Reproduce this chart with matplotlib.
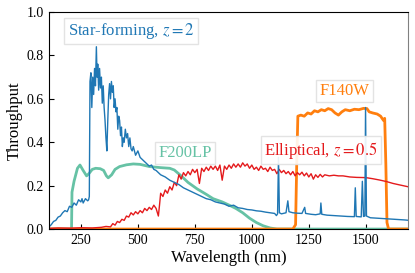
import matplotlib
matplotlib.use('Agg')
import matplotlib.pyplot as plt

# fonts: Times-like serif with STIX math
plt.rcParams['font.family'] = 'Liberation Serif'
plt.rcParams['mathtext.fontset'] = 'stix'

# star-forming galaxy, z=2 (wavelength nm, throughput-weighted flux)
sf_wave = [110, 120, 130, 140, 150, 160, 170, 180, 190, 200, 210, 220, 230, 240, 250, 255, 260, 270, 280, 284,
           287, 290, 294, 298, 302, 306, 310, 314, 318, 321, 324, 328, 332, 336, 340, 344, 348, 352, 356, 360,
           364, 368, 372, 376, 380, 384, 388, 392, 396, 400, 404, 408, 412, 416, 420, 424, 428, 432, 436, 440,
           445, 450, 455, 460, 465, 470, 475, 480, 490, 500, 510, 520, 530, 540, 550, 560, 570, 580, 590, 600,
           620, 640, 660, 680, 700, 720, 740, 760, 780, 800, 820, 840, 860, 880, 900, 920, 940, 960, 980, 1000,
           1020, 1040, 1060, 1080, 1100, 1108, 1113, 1117, 1121, 1130, 1150, 1158, 1163, 1180, 1200, 1220, 1232,
           1236, 1260, 1280, 1300, 1303, 1307, 1330, 1360, 1390, 1420, 1450, 1454, 1458, 1480, 1485, 1490, 1496,
           1499, 1503, 1520, 1550, 1580, 1610, 1640, 1670, 1690]
sf_flux = [0.010, 0.020, 0.035, 0.040, 0.055, 0.060, 0.075, 0.085, 0.080, 0.105, 0.100, 0.120, 0.110, 0.135, 0.125,
           0.140, 0.120, 0.140, 0.130, 0.135, 0.150, 0.680, 0.720, 0.560, 0.700, 0.620, 0.740, 0.660, 0.840, 0.700,
           0.760, 0.640, 0.740, 0.650, 0.700, 0.580, 0.660, 0.560, 0.500, 0.420, 0.360, 0.500, 0.620, 0.670, 0.600,
           0.680, 0.630, 0.660, 0.560, 0.600, 0.540, 0.560, 0.460, 0.520, 0.500, 0.430, 0.470, 0.380, 0.420, 0.400,
           0.460, 0.420, 0.440, 0.380, 0.420, 0.370, 0.360, 0.380, 0.340, 0.360, 0.330, 0.320, 0.310, 0.300, 0.290,
           0.295, 0.275, 0.270, 0.260, 0.250, 0.240, 0.225, 0.215, 0.205, 0.190, 0.180, 0.170, 0.160, 0.150, 0.140,
           0.135, 0.125, 0.120, 0.115, 0.105, 0.110, 0.098, 0.095, 0.090, 0.088, 0.084, 0.082, 0.078, 0.075, 0.072,
           0.062, 0.070, 0.330, 0.075, 0.070, 0.075, 0.130, 0.080, 0.075, 0.073, 0.072, 0.100, 0.072, 0.068, 0.066,
           0.070, 0.120, 0.068, 0.064, 0.062, 0.060, 0.058, 0.057, 0.190, 0.058, 0.056, 0.220, 0.058, 0.060, 0.560,
           0.060, 0.052, 0.050, 0.048, 0.046, 0.044, 0.042, 0.040]

# elliptical galaxy, z=0.5
el_wave = [110, 150, 200, 250, 300, 340, 360, 380, 390, 400, 410, 420, 430, 440, 450, 460, 470, 480, 490, 500,
           510, 520, 530, 540, 550, 560, 570, 580, 590, 595, 600, 610, 620, 630, 640, 650, 660, 670, 680, 690,
           700, 710, 720, 730, 740, 750, 760, 770, 780, 790, 800, 810, 820, 830, 840, 850, 860, 870, 880, 890,
           900, 910, 920, 930, 940, 950, 960, 970, 980, 990, 1000, 1010, 1020, 1030, 1040, 1050, 1060, 1070,
           1080, 1090, 1100, 1110, 1120, 1130, 1140, 1150, 1160, 1170, 1180, 1190, 1200, 1210, 1220, 1230, 1240,
           1250, 1260, 1270, 1280, 1290, 1300, 1310, 1320, 1340, 1360, 1380, 1400, 1430, 1460, 1500, 1530, 1560,
           1590, 1620, 1650, 1685]
el_flux = [0.003, 0.005, 0.004, 0.006, 0.005, 0.008, 0.012, 0.010, 0.025, 0.018, 0.035, 0.030, 0.045, 0.040, 0.060,
           0.055, 0.075, 0.065, 0.080, 0.070, 0.085, 0.075, 0.095, 0.085, 0.100, 0.090, 0.110, 0.095, 0.060, 0.110,
           0.165, 0.150, 0.180, 0.165, 0.195, 0.180, 0.215, 0.200, 0.250, 0.230, 0.260, 0.245, 0.265, 0.250, 0.275,
           0.260, 0.275, 0.210, 0.280, 0.265, 0.285, 0.270, 0.290, 0.275, 0.290, 0.270, 0.295, 0.225, 0.290, 0.275,
           0.295, 0.280, 0.300, 0.285, 0.300, 0.285, 0.305, 0.290, 0.300, 0.280, 0.295, 0.275, 0.285, 0.270, 0.290,
           0.275, 0.280, 0.265, 0.285, 0.270, 0.275, 0.255, 0.275, 0.260, 0.270, 0.255, 0.265, 0.250, 0.265, 0.245,
           0.260, 0.250, 0.262, 0.245, 0.258, 0.240, 0.255, 0.230, 0.250, 0.238, 0.252, 0.240, 0.250, 0.245, 0.248,
           0.245, 0.245, 0.240, 0.238, 0.237, 0.232, 0.226, 0.219, 0.210, 0.203, 0.195]

# F200LP filter throughput
f200_wave = [100, 205, 209, 211, 220, 235, 246, 260, 275, 285, 300, 315, 335, 350, 362, 370, 385, 400, 420, 450,
             480, 510, 550, 600, 640, 660, 690, 720, 760, 800, 830, 870, 905, 930, 960, 990, 1020, 1050, 1080,
             1110, 1700]
f200_tp = [0, 0, 0, 0.17, 0.22, 0.28, 0.295, 0.27, 0.245, 0.255, 0.275, 0.28, 0.278, 0.27, 0.245, 0.236, 0.25,
           0.275, 0.288, 0.296, 0.300, 0.298, 0.288, 0.283, 0.280, 0.272, 0.245, 0.215, 0.185, 0.160, 0.140, 0.125,
           0.108, 0.095, 0.075, 0.050, 0.030, 0.015, 0.005, 0, 0]

# F140W filter throughput
f140_wave = [100, 1180, 1192, 1197, 1202, 1215, 1230, 1245, 1260, 1275, 1290, 1305, 1320, 1335, 1350, 1365, 1380,
             1395, 1410, 1430, 1450, 1470, 1490, 1505, 1515, 1530, 1550, 1565, 1578, 1583, 1588, 1593, 1600, 1700]
f140_tp = [0, 0, 0.02, 0.3, 0.52, 0.525, 0.52, 0.535, 0.53, 0.545, 0.54, 0.55, 0.545, 0.555, 0.55, 0.535, 0.525,
           0.54, 0.55, 0.545, 0.552, 0.55, 0.556, 0.555, 0.54, 0.535, 0.53, 0.52, 0.50, 0.51, 0.3, 0.03, 0, 0]

c_sf = '#1f77b4'
c_el = '#e41a1c'
c_f200 = '#66c2a5'
c_f140 = '#ff7f0e'

fig = plt.figure(figsize=(4.15, 2.73), dpi=100)
ax = fig.add_axes([0.118, 0.161, 0.865, 0.795])

ax.plot(f200_wave, f200_tp, color=c_f200, lw=2)
ax.plot(f140_wave, f140_tp, color=c_f140, lw=2)
ax.plot(el_wave, el_flux, color=c_el, lw=1)
ax.plot(sf_wave, sf_flux, color=c_sf, lw=1)

box = dict(boxstyle='square,pad=0.2', fc='white', ec='0.88', alpha=0.9)
ax.text(470, 0.912, 'Star-forming, $z=2$', color=c_sf, fontsize=12, ha='center', va='center', bbox=box, zorder=5)
ax.text(1406, 0.636, 'F140W', color=c_f140, fontsize=12, ha='center', va='center', bbox=box, zorder=5)
ax.text(706, 0.35, 'F200LP', color=c_f200, fontsize=12, ha='center', va='center', bbox=box, zorder=5)
ax.text(1303, 0.364, 'Elliptical, $z=0.5$', color=c_el, fontsize=12, ha='center', va='center', bbox=box, zorder=5)

ax.set_xlim(110, 1685)
ax.set_ylim(0, 1.0)
ax.set_xticks([250, 500, 750, 1000, 1250, 1500])
ax.set_yticks([0.0, 0.2, 0.4, 0.6, 0.8, 1.0])
ax.tick_params(direction='in', labelsize=10, length=3.5)
ax.spines['right'].set_color('0.5')
ax.set_xlabel('Wavelength (nm)', fontsize=12, labelpad=2)
ax.set_ylabel('Throughput', fontsize=12, labelpad=3)

fig.savefig('out.png', dpi=100)
